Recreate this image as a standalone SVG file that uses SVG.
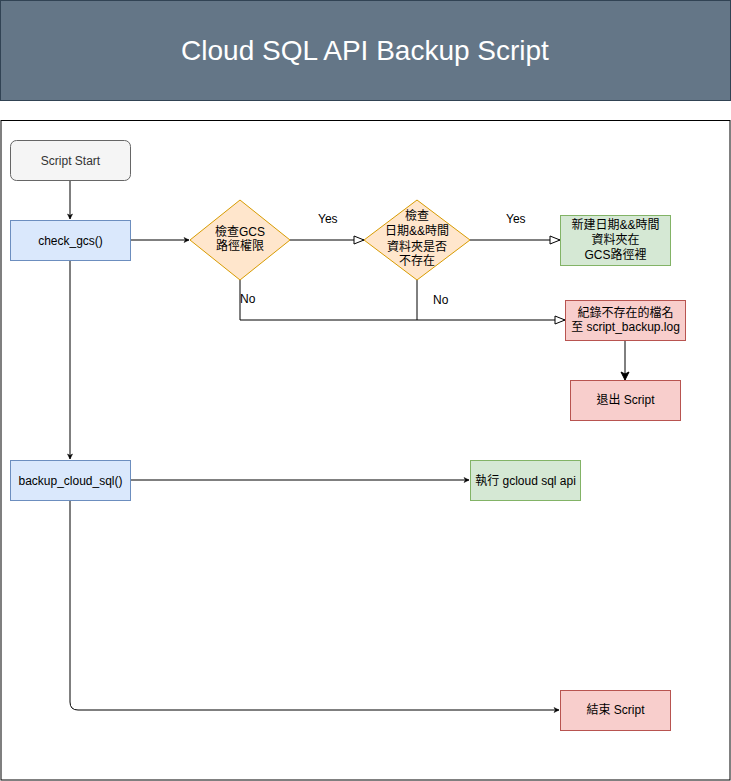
<svg xmlns="http://www.w3.org/2000/svg" width="731" height="781" viewBox="0 0 731 781">
<style>
text{font-family:"Liberation Sans","Noto Sans CJK TC",sans-serif;font-size:12px;fill:#000;text-anchor:middle}
.ttl{font-size:28px;fill:#fff}
.start{fill:#f5f5f5;stroke:#666}
.blue{fill:#dae8fc;stroke:#6c8ebf}
.orange{fill:#ffe6cc;stroke:#d79b00}
.green{fill:#d5e8d4;stroke:#82b366}
.red{fill:#f8cecc;stroke:#b85450}
.c{fill:none;stroke:#000;stroke-width:1}
.lbl{text-anchor:start}
</style>
<defs>
<marker id="sm" markerUnits="userSpaceOnUse" markerWidth="8" markerHeight="8" refX="6" refY="4" orient="auto">
<path d="M1,1.5 L6,4 L1,6.5 L2.5,4 Z" fill="#000" stroke="#000" stroke-width="0.5"/>
</marker>
<marker id="open" markerUnits="userSpaceOnUse" markerWidth="14" markerHeight="12" refX="11" refY="6" orient="auto">
<path d="M1,2 L11,6 L1,10 Z" fill="#fff" stroke="#000" stroke-width="1"/>
</marker>
<marker id="cls" markerUnits="userSpaceOnUse" markerWidth="12" markerHeight="12" refX="9" refY="6" orient="auto">
<path d="M1,2 L9,6 L1,10 L3,6 Z" fill="#000" stroke="#000" stroke-width="1"/>
</marker>
</defs>
<g id="header">
<rect x="0.5" y="0.5" width="730" height="100" fill="#647687" stroke="#314354"/>
<text class="ttl" x="365" y="60">Cloud SQL API Backup Script</text>
</g>
<g id="frame">
<rect x="1" y="120.5" width="729" height="659.5" fill="#fff" stroke="#000"/>
</g>
<g id="connectors">
<path class="c" d="M70,180 V219" marker-end="url(#sm)"/>
<path class="c" d="M130,240 H189" marker-end="url(#sm)"/>
<path class="c" d="M70,260 V459" marker-end="url(#sm)"/>
<path class="c" d="M290,240 H364" marker-end="url(#open)"/>
<path class="c" d="M470,240 H560" marker-end="url(#open)"/>
<path class="c" d="M240,280 V320 H565" marker-end="url(#open)"/>
<path class="c" d="M417,280 V320"/>
<path class="c" d="M625,340 V380" marker-end="url(#cls)"/>
<path class="c" d="M130,480 H469" marker-end="url(#sm)"/>
<path class="c" d="M70,500 V702 Q70,710 78,710 H559" marker-end="url(#sm)"/>
<text class="lbl" x="318" y="223">Yes</text>
<text class="lbl" x="506" y="223">Yes</text>
<text class="lbl" x="240" y="303">No</text>
<text class="lbl" x="433" y="304">No</text>
</g>
<g id="script-start">
<rect class="start" x="10.5" y="140.5" width="120" height="40" rx="6"/>
<text x="70.5" y="165" style="fill:#333">Script Start</text>
</g>
<g id="check-gcs">
<rect class="blue" x="10.5" y="220.5" width="120" height="40"/>
<text x="70.5" y="245">check_gcs()</text>
</g>
<g id="check-gcs-permission">
<path class="orange" d="M240,200 L290,240 L240,280 L190,240 Z"/>
<text x="240" y="236">檢查GCS</text>
<text x="240" y="250">路徑權限</text>
</g>
<g id="check-folder">
<path class="orange" d="M417,200 L470,240 L417,280 L364,240 Z"/>
<text x="417" y="220">檢查</text>
<text x="417" y="235">日期&amp;&amp;時間</text>
<text x="417" y="251">資料夾是否</text>
<text x="417" y="265">不存在</text>
</g>
<g id="create-folder">
<rect class="green" x="560.5" y="215.5" width="110" height="50"/>
<text x="615.5" y="229">新建日期&amp;&amp;時間</text>
<text x="615.5" y="244">資料夾在</text>
<text x="615.5" y="259">GCS路徑裡</text>
</g>
<g id="log-missing">
<rect class="red" x="565.5" y="300.5" width="120" height="40"/>
<text x="625.5" y="317">紀錄不存在的檔名</text>
<text x="625.5" y="331">至 script_backup.log</text>
</g>
<g id="exit-script">
<rect class="red" x="570.5" y="380.5" width="110" height="40"/>
<text x="625.5" y="404">退出 Script</text>
</g>
<g id="backup-cloud-sql">
<rect class="blue" x="10.5" y="460.5" width="120" height="40"/>
<text x="70.5" y="485">backup_cloud_sql()</text>
</g>
<g id="run-gcloud">
<rect class="green" x="470.5" y="460.5" width="110" height="40"/>
<text x="525.5" y="485">執行 gcloud sql api</text>
</g>
<g id="end-script">
<rect class="red" x="560.5" y="690.5" width="110" height="40"/>
<text x="615.5" y="714">結束 Script</text>
</g>
</svg>
